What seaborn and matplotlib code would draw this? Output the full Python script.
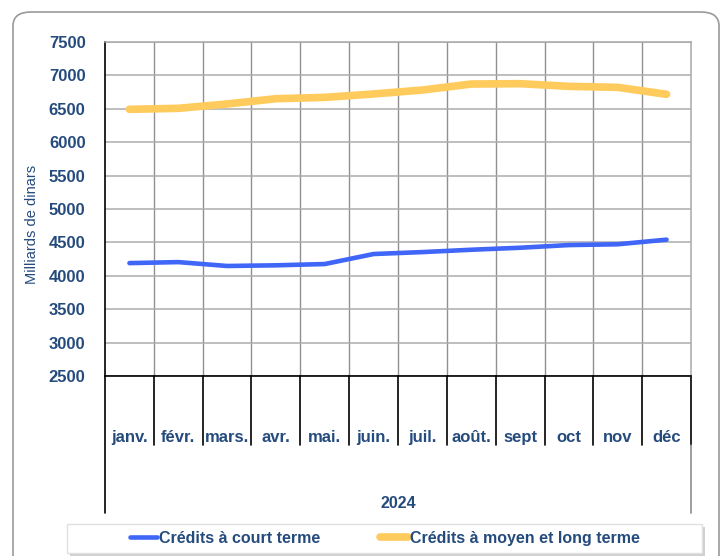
import matplotlib
matplotlib.use("Agg")
import matplotlib.pyplot as plt
import seaborn as sns
import pandas as pd
from matplotlib.patches import FancyBboxPatch, Rectangle
from matplotlib.lines import Line2D

months = ["janv.", "févr.", "mars.", "avr.", "mai.", "juin.", "juil.", "août.", "sept", "oct", "nov", "déc"]
court_terme = [4190, 4205, 4147, 4157, 4176, 4326, 4355, 4390, 4420, 4460, 4472, 4541]
moyen_long_terme = [6492, 6507, 6572, 6651, 6671, 6722, 6781, 6871, 6876, 6836, 6821, 6717]
year_label = "2024"
series_names = ["Crédits à court terme", "Crédits à moyen et long terme"]
yticks = [2500, 3000, 3500, 4000, 4500, 5000, 5500, 6000, 6500, 7000, 7500]

BLUE = "#3F66F7"
YELLOW = "#FFCB5C"
TXT = "#254B7D"

sns.set_theme(style="white")
plt.rcParams["font.family"] = ["Liberation Sans", "DejaVu Sans"]

W, H = 721, 556
fig = plt.figure(figsize=(W / 100, H / 100), dpi=100)

# outer rounded frame (bottom edge runs off the image)
frame = FancyBboxPatch((13 / W, -20 / H), (719 - 13) / W, (544 + 20) / H,
                       boxstyle="round,pad=0,rounding_size=0.025",
                       transform=fig.transFigure, facecolor="none",
                       edgecolor="#9a9a9a", linewidth=1.2, zorder=-1)
fig.patches.append(frame)

L, R, T, B = 105, 691, 42, 376
ax = fig.add_axes([L / W, 1 - B / H, (R - L) / W, (B - T) / H])
ax.set_facecolor("none")
ax.set_zorder(3)

df = pd.DataFrame({
    "mois": list(range(12)) * 2,
    "valeur": court_terme + moyen_long_terme,
    "serie": [series_names[0]] * 12 + [series_names[1]] * 12,
})
sns.lineplot(data=df, x="mois", y="valeur", hue="serie",
             palette=[BLUE, YELLOW], ax=ax, legend=False, zorder=3)
ax.lines[0].set_linewidth(3.3)
ax.lines[1].set_linewidth(5.5)
for ln in ax.lines:
    ln.set_solid_capstyle("round")

ax.set_xlim(-0.5, 11.5)
ax.set_ylim(2500, 7500)
ax.set_yticks(yticks)
ax.set_yticklabels([str(v) for v in yticks], fontsize=12, fontweight="bold", color=TXT)
ax.tick_params(axis="y", length=0, pad=14)

ax.set_xticks(range(12))
ax.set_xticklabels(months, fontsize=12, fontweight="bold", color=TXT)
ax.tick_params(axis="x", length=0, pad=44)
ax.set_xticks([i - 0.5 for i in range(1, 12)], minor=True)
ax.tick_params(axis="x", which="minor", length=0)
for lbl in ax.get_xticklabels():
    lbl.set_va("center")

ax.grid(True, which="major", axis="y", color="#acacac", linewidth=1.1)
ax.grid(True, which="minor", axis="x", color="#909090", linewidth=1.0)

for s in ["top", "right"]:
    ax.spines[s].set_color("#a8a8a8")
    ax.spines[s].set_linewidth(1.1)
ax.spines["left"].set_color("black")
ax.spines["bottom"].set_color("black")
ax.spines["left"].set_linewidth(1.2)
ax.spines["bottom"].set_linewidth(1.2)

ax.set_xlabel("")
ax.set_ylabel("Milliards de dinars", fontsize=10.5, color=TXT)
ax.yaxis.set_label_coords(-(105 - 39) / (R - L), 0.5 - (224 - (T + B) / 2) / (B - T))

# category axis separators below the plot
ph = B - T
xt = ax.get_xaxis_transform()
y_short = -(445 - B) / ph
y_long = -(513 - B) / ph
for i in range(1, 12):
    ax.add_line(Line2D([i - 0.5, i - 0.5], [0, y_short], transform=xt,
                       color="black", linewidth=1.2, clip_on=False))
ax.add_line(Line2D([-0.5, -0.5], [0, y_long], transform=xt,
                   color="black", linewidth=1.2, clip_on=False))
ax.add_line(Line2D([11.5, 11.5], [0, y_short], transform=xt,
                   color="black", linewidth=1.2, clip_on=False))
ax.add_line(Line2D([11.5, 11.5], [y_short, y_long], transform=xt,
                   color="#8c8c8c", linewidth=1.2, clip_on=False))

ax.text(5.5, -(503 - B) / ph, year_label, transform=xt, ha="center", va="center",
        fontsize=11.5, fontweight="bold", color=TXT)

# legend box with shadow
lx0, ly0, lx1, ly1 = 67, 524, 702, 553
fig.patches.append(Rectangle(((lx0 + 3) / W, 1 - (ly1 + 3) / H), (lx1 - lx0) / W, (ly1 - ly0) / H,
                             transform=fig.transFigure, facecolor="#d0d0d0",
                             edgecolor="none", zorder=1))
fig.patches.append(Rectangle((lx0 / W, 1 - ly1 / H), (lx1 - lx0) / W, (ly1 - ly0) / H,
                             transform=fig.transFigure, facecolor="white",
                             edgecolor="#e0e0e0", linewidth=1, zorder=2))

handles = [Line2D([], [], color=BLUE, linewidth=3.3),
           Line2D([], [], color=YELLOW, linewidth=5.5)]
leg = fig.legend(handles, series_names, loc="center",
                 bbox_to_anchor=((lx0 + lx1) / 2 / W, 1 - (ly0 + ly1) / 2 / H),
                 ncol=2, frameon=False, handlelength=1.75, handletextpad=0.12,
                 columnspacing=3.7, prop={"size": 11.5, "weight": "bold"})
for t in leg.get_texts():
    t.set_color(TXT)
leg.set_zorder(5)

fig.savefig("out.png", dpi=100)
